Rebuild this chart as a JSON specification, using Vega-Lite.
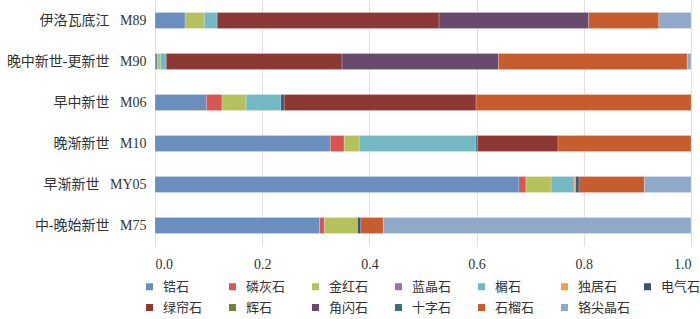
{
  "$schema": "https://vega.github.io/schema/vega-lite/v6.json",
  "width": 536,
  "height": 246,
  "autosize": "none",
  "padding": {"left": 155, "top": 0, "right": 9, "bottom": 73},
  "background": "white",
  "config": {
    "view": {"stroke": null},
    "font": "Liberation Serif, Noto Sans CJK SC"
  },
  "data": {
    "values": [
      {"sample": "伊洛瓦底江  M89", "mineral": "锆石", "v": 0.056},
      {"sample": "伊洛瓦底江  M89", "mineral": "金红石", "v": 0.036},
      {"sample": "伊洛瓦底江  M89", "mineral": "榍石", "v": 0.024},
      {"sample": "伊洛瓦底江  M89", "mineral": "绿帘石", "v": 0.414},
      {"sample": "伊洛瓦底江  M89", "mineral": "角闪石", "v": 0.279},
      {"sample": "伊洛瓦底江  M89", "mineral": "石榴石", "v": 0.131},
      {"sample": "伊洛瓦底江  M89", "mineral": "铬尖晶石", "v": 0.060},
      {"sample": "晚中新世-更新世  M90", "mineral": "锆石", "v": 0.005},
      {"sample": "晚中新世-更新世  M90", "mineral": "金红石", "v": 0.005},
      {"sample": "晚中新世-更新世  M90", "mineral": "榍石", "v": 0.011},
      {"sample": "晚中新世-更新世  M90", "mineral": "绿帘石", "v": 0.328},
      {"sample": "晚中新世-更新世  M90", "mineral": "角闪石", "v": 0.292},
      {"sample": "晚中新世-更新世  M90", "mineral": "石榴石", "v": 0.352},
      {"sample": "晚中新世-更新世  M90", "mineral": "铬尖晶石", "v": 0.007},
      {"sample": "早中新世  M06", "mineral": "锆石", "v": 0.096},
      {"sample": "早中新世  M06", "mineral": "磷灰石", "v": 0.029},
      {"sample": "早中新世  M06", "mineral": "金红石", "v": 0.045},
      {"sample": "早中新世  M06", "mineral": "榍石", "v": 0.065},
      {"sample": "早中新世  M06", "mineral": "电气石", "v": 0.006},
      {"sample": "早中新世  M06", "mineral": "绿帘石", "v": 0.358},
      {"sample": "早中新世  M06", "mineral": "石榴石", "v": 0.401},
      {"sample": "晚渐新世  M10", "mineral": "锆石", "v": 0.327},
      {"sample": "晚渐新世  M10", "mineral": "磷灰石", "v": 0.026},
      {"sample": "晚渐新世  M10", "mineral": "金红石", "v": 0.028},
      {"sample": "晚渐新世  M10", "mineral": "榍石", "v": 0.218},
      {"sample": "晚渐新世  M10", "mineral": "电气石", "v": 0.003},
      {"sample": "晚渐新世  M10", "mineral": "绿帘石", "v": 0.150},
      {"sample": "晚渐新世  M10", "mineral": "石榴石", "v": 0.248},
      {"sample": "早渐新世  MY05", "mineral": "锆石", "v": 0.679},
      {"sample": "早渐新世  MY05", "mineral": "磷灰石", "v": 0.013},
      {"sample": "早渐新世  MY05", "mineral": "金红石", "v": 0.047},
      {"sample": "早渐新世  MY05", "mineral": "榍石", "v": 0.043},
      {"sample": "早渐新世  MY05", "mineral": "独居石", "v": 0.003},
      {"sample": "早渐新世  MY05", "mineral": "电气石", "v": 0.006},
      {"sample": "早渐新世  MY05", "mineral": "石榴石", "v": 0.122},
      {"sample": "早渐新世  MY05", "mineral": "铬尖晶石", "v": 0.087},
      {"sample": "中-晚始新世  M75", "mineral": "锆石", "v": 0.307},
      {"sample": "中-晚始新世  M75", "mineral": "磷灰石", "v": 0.009},
      {"sample": "中-晚始新世  M75", "mineral": "金红石", "v": 0.062},
      {"sample": "中-晚始新世  M75", "mineral": "电气石", "v": 0.006},
      {"sample": "中-晚始新世  M75", "mineral": "石榴石", "v": 0.042},
      {"sample": "中-晚始新世  M75", "mineral": "铬尖晶石", "v": 0.574}
    ]
  },
  "transform": [
    {"calculate": "indexof(['锆石','磷灰石','金红石','蓝晶石','榍石','独居石','电气石','绿帘石','辉石','角闪石','十字石','石榴石','铬尖晶石'], datum.mineral)", "as": "k"}
  ],
  "mark": {"type": "bar", "stroke": "white", "strokeWidth": 0.4, "strokeOpacity": 0.5},
  "encoding": {
    "y": {
      "field": "sample",
      "type": "nominal",
      "sort": ["伊洛瓦底江  M89", "晚中新世-更新世  M90", "早中新世  M06", "晚渐新世  M10", "早渐新世  MY05", "中-晚始新世  M75"],
      "scale": {"paddingInner": 0.61, "paddingOuter": 0.305},
      "axis": {"title": null, "domain": false, "ticks": false, "grid": false, "labelFontSize": 14, "labelPadding": 9, "labelColor": "#333333", "labelFont": "Liberation Serif, Noto Sans CJK SC", "labelExpr": "replace(datum.label, '  ', '\u00a0\u00a0\u00a0')"}
    },
    "x": {
      "field": "v",
      "type": "quantitative",
      "stack": "zero",
      "scale": {"domain": [0, 1], "nice": false},
      "axis": {"title": null, "domain": false, "ticks": false, "values": [0, 0.2, 0.4, 0.6, 0.8, 1.0], "format": ".1f", "labelFontSize": 14, "labelPadding": 11, "labelColor": "#333333", "gridColor": "#EBDDDD", "gridWidth": 1}
    },
    "color": {
      "field": "mineral",
      "type": "nominal",
      "sort": ["锆石","磷灰石","金红石","蓝晶石","榍石","独居石","电气石","绿帘石","辉石","角闪石","十字石","石榴石","铬尖晶石"],
      "scale": {
        "domain": ["锆石","磷灰石","金红石","蓝晶石","榍石","独居石","电气石","绿帘石","辉石","角闪石","十字石","石榴石","铬尖晶石"],
        "range": ["#6A8EBE","#D85650","#B5C25B","#9373AE","#73B9C3","#F59B4F","#3F5178","#8C3834","#76823A","#674A6C","#3A7278","#C75D2E","#8FA9C9"]
      },
      "legend": {
        "title": null,
        "orient": "none",
        "legendX": -12,
        "legendY": 280,
        "direction": "horizontal",
        "columns": 7,
        "gridAlign": "all",
        "symbolType": "square",
        "symbolSize": 49,
        "symbolStrokeWidth": 0,
        "labelFontSize": 13,
        "labelFont": "Liberation Serif, Noto Sans CJK SC",
        "labelColor": "#333333",
        "labelOffset": 7,
        "columnPadding": 10,
        "rowPadding": 7
      }
    },
    "order": {"field": "k", "type": "quantitative"}
  }
}
